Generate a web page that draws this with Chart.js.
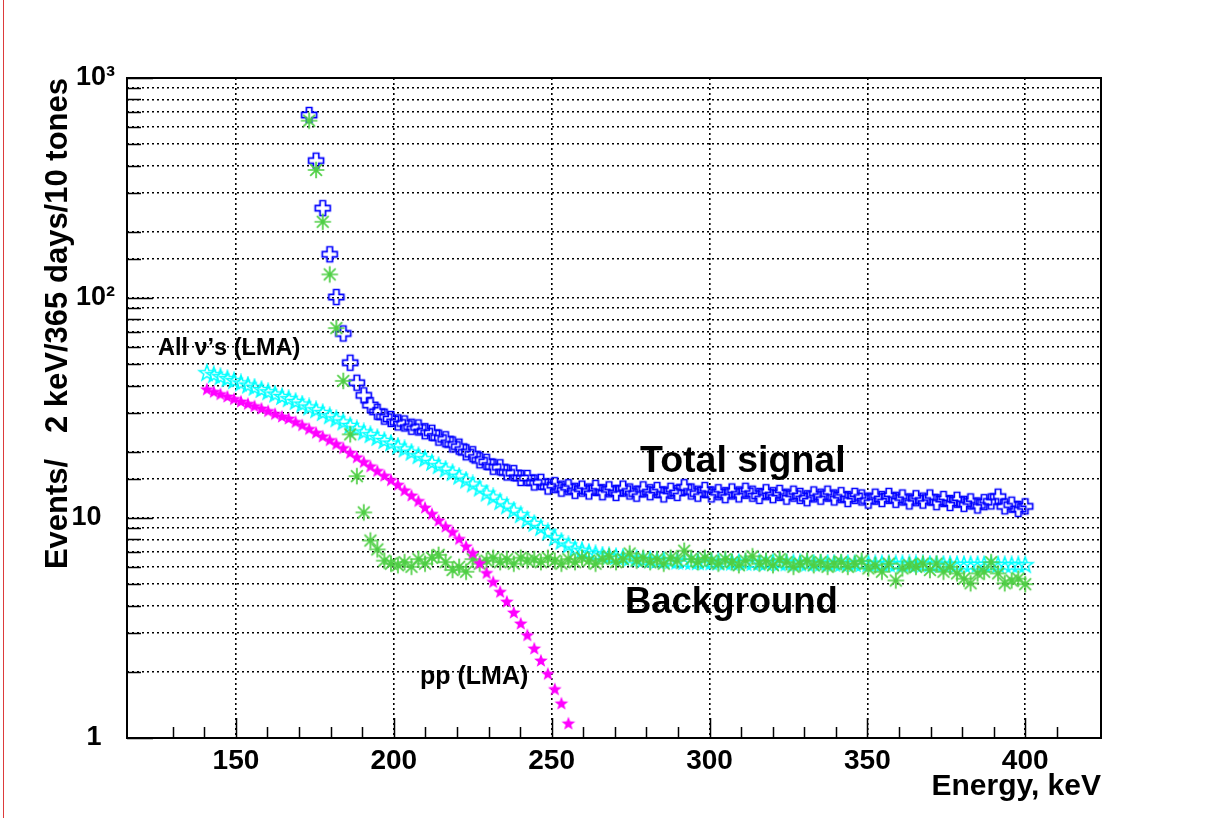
<!DOCTYPE html>
<html>
<head>
<meta charset="utf-8">
<script src="https://cdn.jsdelivr.net/npm/chart.js@4.4.0/dist/chart.umd.min.js"></script>
<style>
  html, body { margin: 0; padding: 0; background: #fff; }
  #wrap { position: relative; width: 1220px; height: 818px; }
  #edge { position: absolute; left: 3px; top: 0; width: 1px; height: 818px; background: #dd3b3b; }
</style>
</head>
<body>
<div id="wrap"><canvas id="spectrum" width="1220" height="818"></canvas><div id="edge"></div></div>
<script>
// energy bins, keV
const energy = [
  140.8,143.0,145.1,147.3,149.4,151.6,153.8,155.9,158.1,160.2,
  162.4,164.6,166.7,168.9,171.0,173.2,175.4,177.5,179.7,181.8,
  184.0,186.2,188.3,190.5,192.6,194.8,197.0,199.1,201.3,203.4,
  205.6,207.8,209.9,212.1,214.2,216.4,218.6,220.7,222.9,225.0,
  227.2,229.4,231.5,233.7,235.8,238.0,240.2,242.3,244.5,246.6,
  248.8,251.0,253.1,255.3,257.4,259.6,261.8,263.9,266.1,268.2,
  270.4,272.6,274.7,276.9,279.0,281.2,283.4,285.5,287.7,289.8,
  292.0,294.2,296.3,298.5,300.6,302.8,305.0,307.1,309.3,311.4,
  313.6,315.8,317.9,320.1,322.2,324.4,326.6,328.7,330.9,333.0,
  335.2,337.4,339.5,341.7,343.8,346.0,348.2,350.3,352.5,354.6,
  356.8,359.0,361.1,363.3,365.4,367.6,369.8,371.9,374.1,376.2,
  378.4,380.6,382.7,384.9,387.0,389.2,391.4,393.5,395.7,397.8,
  400.0
];

// Total signal
const totalSignal = [
  null,null,null,null,null,null,null,null,null,null,
  null,null,null,null,null,679,421,256,158,101,
  69,50.8,41.2,36.1,32.6,30.4,28.9,28.2,27.2,26.9,
  26.0,25.8,24.8,24.4,23.2,22.8,21.6,21.1,19.9,19.5,
  18.3,18.0,17.1,17.0,16.1,16.0,15.2,15.2,14.5,14.6,
  13.9,14.1,13.6,13.8,13.3,13.6,13.2,13.7,13.1,13.5,
  13.0,13.6,13.2,12.9,13.5,13.1,13.4,12.8,13.3,13.0,
  13.8,13.2,12.9,13.4,12.8,13.1,12.7,13.2,12.8,13.3,
  12.9,12.6,13.1,12.7,13.0,12.5,12.9,12.6,12.3,12.8,
  12.5,12.9,12.4,12.7,12.2,12.6,12.4,12.0,12.5,12.2,
  12.6,12.1,12.4,11.9,12.3,12.0,12.4,11.8,12.2,11.7,
  12.1,11.6,11.9,11.4,11.8,11.9,12.5,11.3,11.5,11.0,
  11.3
];

// All neutrinos (LMA)
const allNu = [
  45.5,44.6,43.7,42.8,41.9,40.9,40.0,39.1,38.2,37.3,
  36.4,35.5,34.7,33.7,32.8,31.8,30.9,30.0,29.0,28.1,
  27.2,26.2,25.3,24.5,23.8,23.1,22.4,21.8,21.1,20.5,
  19.8,19.1,18.5,17.8,17.2,16.6,16.0,15.4,14.8,14.2,
  13.6,12.9,12.4,11.8,11.3,10.8,10.3,9.8,9.4,9.0,
  8.6,8.1,7.8,7.5,7.2,7.1,6.95,6.85,6.75,6.7,
  6.65,6.6,6.55,6.5,6.45,6.42,6.4,6.38,6.36,6.34,
  6.32,6.31,6.3,6.3,6.29,6.28,6.28,6.27,6.26,6.26,
  6.25,6.25,6.24,6.24,6.23,6.23,6.22,6.22,6.21,6.21,
  6.2,6.2,6.2,6.19,6.19,6.18,6.18,6.18,6.17,6.17,
  6.16,6.16,6.16,6.15,6.15,6.15,6.14,6.14,6.14,6.13,
  6.13,6.13,6.12,6.12,6.12,6.11,6.11,6.11,6.1,6.1,
  6.1
];

// pp neutrinos (LMA)
const ppNu = [
  38.3,37.3,36.4,35.5,34.6,33.7,32.9,32.1,31.3,30.5,
  29.6,28.8,28.2,27.2,26.3,25.3,24.3,23.4,22.5,21.6,
  20.7,19.7,18.8,17.9,17.1,16.3,15.5,14.8,14.1,13.3,
  12.6,11.9,11.1,10.4,9.7,9.1,8.6,8.0,7.4,6.9,
  6.2,5.6,5.1,4.6,4.15,3.7,3.3,2.92,2.54,2.24,
  1.95,1.66,1.43,1.16
];

// Background
const background = [
  null,null,null,null,null,null,null,null,null,null,
  null,null,null,null,null,640,382,222,128,73,
  42,24.0,15.5,10.6,7.9,7.2,6.4,6.2,6.1,6.3,
  6.0,6.5,6.2,6.6,6.8,6.3,5.8,6.0,5.7,6.5,
  6.2,6.4,6.6,6.3,6.5,6.2,6.6,6.4,6.5,6.3,
  6.6,6.4,6.2,6.5,6.3,6.6,6.4,6.2,6.5,6.7,
  6.3,6.5,6.9,6.4,6.6,6.3,6.5,6.2,6.6,6.4,
  7.1,6.5,6.3,6.6,6.4,6.2,6.5,6.3,6.1,6.4,
  6.7,6.2,6.4,6.1,6.5,6.3,6.0,6.2,6.4,6.1,
  6.3,6.0,6.2,6.3,6.0,6.2,6.4,5.9,6.1,5.7,
  6.2,5.2,5.9,6.1,6.0,6.2,5.8,6.2,5.7,6.0,
  5.6,5.3,5.05,5.6,5.7,6.3,5.6,5.05,5.2,5.3,
  5.0
];

const xTickLabels = ['150', '200', '250', '300', '350', '400'];
const yTickLabels = { 1: '1\u2002', 10: '10\u2002', 100: '10\u00B2', 1000: '10\u00B3' };

const FONT = "'Liberation Sans', Arial, Helvetica, sans-serif";

function points(arr) {
  const out = [];
  arr.forEach((v, i) => { if (v !== null && v !== undefined) out.push({ x: energy[i], y: v }); });
  return out;
}

function marker(size, draw) {
  const c = document.createElement('canvas');
  c.width = size; c.height = size;
  const g = c.getContext('2d');
  g.translate(size / 2, size / 2);
  draw(g);
  return c;
}

function starPath(g, R, r) {
  g.beginPath();
  for (let i = 0; i < 10; i++) {
    const a = -Math.PI / 2 + i * Math.PI / 5;
    const rad = i % 2 ? r : R;
    const px = rad * Math.cos(a), py = rad * Math.sin(a);
    i ? g.lineTo(px, py) : g.moveTo(px, py);
  }
  g.closePath();
}

const openCross = marker(20, g => {
  const a = 2.7, r = 7.5;
  const pts = [[-a,-r],[a,-r],[a,-a],[r,-a],[r,a],[a,a],[a,r],[-a,r],[-a,a],[-r,a],[-r,-a],[-a,-a]];
  g.beginPath();
  pts.forEach((p, i) => i ? g.lineTo(p[0], p[1]) : g.moveTo(p[0], p[1]));
  g.closePath();
  g.strokeStyle = '#0000ff'; g.lineWidth = 1.7; g.stroke();
});

const openStar = marker(20, g => {
  starPath(g, 8.3, 3.3);
  g.strokeStyle = '#00ffff'; g.lineWidth = 1.5; g.stroke();
});

const fullStar = marker(18, g => {
  starPath(g, 7.2, 3.0);
  g.fillStyle = '#ff00ff'; g.fill();
});

const asterisk = marker(20, g => {
  g.strokeStyle = '#4fcf45'; g.lineWidth = 1.7;
  g.beginPath();
  for (let i = 0; i < 4; i++) {
    const a = i * Math.PI / 4, r = 8.3;
    g.moveTo(-r * Math.cos(a), -r * Math.sin(a));
    g.lineTo(r * Math.cos(a), r * Math.sin(a));
  }
  g.stroke();
});

const labels = [
  { text: 'All \u03BD\u2019s (LMA)', x: 125.3, y: 59, size: 23.5 },
  { text: 'Total signal', x: 278, y: 18.1, size: 37.5 },
  { text: 'Background', x: 273.2, y: 4.11, size: 36.5 },
  { text: 'pp (LMA)', x: 208.3, y: 1.89, size: 25 }
];

const frameAndTicks = {
  id: 'frameAndTicks',
  afterDraw(chart) {
    const { ctx, chartArea: a, scales: { x, y } } = chart;
    ctx.save();
    ctx.strokeStyle = '#000';
    ctx.lineWidth = 1.5;
    ctx.beginPath();
    x.ticks.forEach(t => {
      const v = t.value;
      if (Math.abs(v - Math.round(v / 10) * 10) > 1e-6) return;
      const px = Math.round(x.getPixelForValue(v)) + 0.5;
      const len = Math.abs(v - Math.round(v / 50) * 50) < 1e-6 ? 20 : 11;
      ctx.moveTo(px, a.bottom); ctx.lineTo(px, a.bottom - len);
    });
    y.ticks.forEach(t => {
      const v = t.value;
      const py = Math.round(y.getPixelForValue(v)) + 0.5;
      const l = Math.log10(v);
      const len = Math.abs(l - Math.round(l)) < 1e-9 ? 26 : 14;
      ctx.moveTo(a.left, py); ctx.lineTo(a.left + len, py);
    });
    ctx.stroke();
    ctx.lineWidth = 2;
    ctx.strokeRect(a.left, a.top, a.right - a.left, a.bottom - a.top);

    ctx.fillStyle = '#000';
    ctx.textBaseline = 'middle';
    ctx.textAlign = 'left';
    labels.forEach(l => {
      ctx.font = 'bold ' + l.size + 'px ' + FONT;
      ctx.fillText(l.text, x.getPixelForValue(l.x), y.getPixelForValue(l.y));
    });
    ctx.restore();
  }
};

new Chart(document.getElementById('spectrum'), {
  type: 'scatter',
  data: {
    datasets: [
      { label: 'pp (LMA)', data: points(ppNu), pointStyle: fullStar, pointRadius: 7 },
      { label: 'Background', data: points(background), pointStyle: asterisk, pointRadius: 7 },
      { label: 'All nu (LMA)', data: points(allNu), pointStyle: openStar, pointRadius: 7 },
      { label: 'Total signal', data: points(totalSignal), pointStyle: openCross, pointRadius: 7 }
    ]
  },
  options: {
    responsive: false,
    animation: false,
    devicePixelRatio: 1,
    layout: { padding: { left: 0, top: 78, right: 119, bottom: 0 } },
    plugins: { legend: { display: false }, tooltip: { enabled: false } },
    scales: {
      x: {
        type: 'linear', min: 115.5, max: 424,
        afterFit: s => { s.height = 80; },
        ticks: {
          stepSize: 10, autoSkip: false, maxRotation: 0, padding: 6, color: '#000',
          font: { family: FONT, size: 28, weight: 'bold' },
          callback: v => xTickLabels.includes(String(Math.round(v))) && Math.abs(v - Math.round(v)) < 1e-6 ? String(Math.round(v)) : ''
        },
        grid: {
          drawTicks: false, lineWidth: 1.6,
          color: c => (c.tick && Math.abs(c.tick.value - Math.round(c.tick.value / 50) * 50) < 1e-6 && c.tick.value > 120 && c.tick.value < 420) ? '#000' : 'rgba(0,0,0,0)'
        },
        border: { display: false, dash: [2, 3] },
        title: {
          display: true, text: 'Energy, keV', align: 'end', color: '#000',
          font: { family: FONT, size: 30, weight: 'bold' },
          padding: { top: 0, bottom: 13 }
        }
      },
      y: {
        type: 'logarithmic', min: 1, max: 1000,
        afterFit: s => { s.width = 127; },
        ticks: {
          autoSkip: false, padding: 12, color: '#000',
          font: { family: FONT, size: 27, weight: 'bold' },
          callback: v => yTickLabels[v] || ''
        },
        grid: { drawTicks: false, lineWidth: 1.6, color: '#000' },
        border: { display: false, dash: [2, 3] },
        title: {
          display: true, text: 'Events/   2 keV/365 days/10 tones', align: 'end', color: '#000',
          font: { family: FONT, size: 31, weight: 'bold' },
          padding: { top: 40, bottom: 0 }
        }
      }
    }
  },
  plugins: [frameAndTicks]
});
</script>
</body>
</html>
